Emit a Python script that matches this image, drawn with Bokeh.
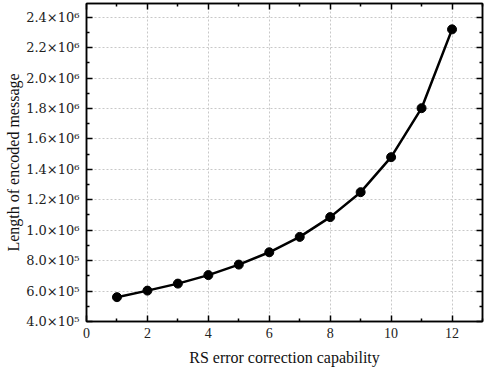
from bokeh.plotting import figure
from bokeh.models import LinearAxis, FixedTicker, Range1d
from bokeh.embed import file_html
from bokeh.resources import INLINE

# data
t_values = [1, 2, 3, 4, 5, 6, 7, 8, 9, 10, 11, 12]
lengths = [560000, 603000, 649000, 705000, 774000, 855000, 956000, 1086000, 1250000, 1480000, 1802000, 2320000]

x_ticks = [0, 2, 4, 6, 8, 10, 12]
x_minor = [1, 3, 5, 7, 9, 11, 13]
y_ticks = [400000, 600000, 800000, 1000000, 1200000, 1400000, 1600000, 1800000, 2000000, 2200000, 2400000]
y_tick_labels = ["4.0×10⁵", "6.0×10⁵", "8.0×10⁵", "1.0×10⁶", "1.2×10⁶", "1.4×10⁶",
                 "1.6×10⁶", "1.8×10⁶", "2.0×10⁶", "2.2×10⁶", "2.4×10⁶"]
y_minor = [500000, 700000, 900000, 1100000, 1300000, 1500000, 1700000, 1900000, 2100000, 2300000]

x_label = "RS error correction capability"
y_label = "Length of encoded message"

FONT = "Liberation Serif"

p = figure(width=485, height=371, output_backend="svg", toolbar_location=None,
           x_range=Range1d(0, 13), y_range=Range1d(400000, 2490000),
           min_border_left=86, min_border_right=3, min_border_top=3, min_border_bottom=50)
p.background_fill_color = "white"
p.border_fill_color = "white"
p.outline_line_color = "black"
p.outline_line_width = 1.5

p.line(t_values, lengths, line_color="black", line_width=2.5)
p.scatter(t_values, lengths, size=9, fill_color="black", line_color="black")

for g in (p.xgrid[0], p.ygrid[0]):
    g.grid_line_color = "#c8c8c8"
    g.grid_line_dash = "2 2"
    g.grid_line_width = 1

p.xaxis.ticker = FixedTicker(ticks=x_ticks, minor_ticks=x_minor)
p.yaxis.ticker = FixedTicker(ticks=y_ticks, minor_ticks=y_minor)
p.xgrid.ticker = FixedTicker(ticks=x_ticks)
p.ygrid.ticker = FixedTicker(ticks=y_ticks)
p.yaxis.major_label_overrides = {t: s for t, s in zip(y_ticks, y_tick_labels)}

def style_axis(ax, labels=True):
    ax.axis_line_color = "black"
    ax.axis_line_width = 1.5
    ax.major_tick_in = 6
    ax.major_tick_out = 0
    ax.minor_tick_in = 3
    ax.minor_tick_out = 0
    ax.major_tick_line_width = 1.5
    ax.minor_tick_line_width = 1.5
    ax.major_tick_line_color = "black"
    ax.minor_tick_line_color = "black"
    if labels:
        ax.major_label_text_font = FONT
        ax.major_label_text_font_size = "14px"
        ax.major_label_text_color = "#222222"
        ax.axis_label_text_font = FONT
        ax.axis_label_text_font_size = "16px"
        ax.axis_label_text_font_style = "normal"
        ax.axis_label_text_color = "#111111"
    else:
        ax.major_label_text_font_size = "0px"
        ax.major_label_standoff = 0

p.xaxis.axis_label = x_label
p.yaxis.axis_label = y_label
style_axis(p.xaxis[0])
style_axis(p.yaxis[0])
p.yaxis.major_label_text_font = "DejaVu Serif"
p.yaxis.major_label_text_font_size = "13px"
p.xaxis.major_label_standoff = 6
p.yaxis.major_label_standoff = 7
p.xaxis.axis_label_standoff = 8
p.yaxis.axis_label_standoff = 1

top = LinearAxis(ticker=FixedTicker(ticks=x_ticks, minor_ticks=x_minor))
right = LinearAxis(ticker=FixedTicker(ticks=y_ticks, minor_ticks=y_minor))
style_axis(top, labels=False)
style_axis(right, labels=False)
top.major_label_overrides = {t: "" for t in x_ticks}
right.major_label_overrides = {t: "" for t in y_ticks}
p.add_layout(top, "above")
p.add_layout(right, "right")

open("out.html", "w").write(file_html(p, INLINE))
